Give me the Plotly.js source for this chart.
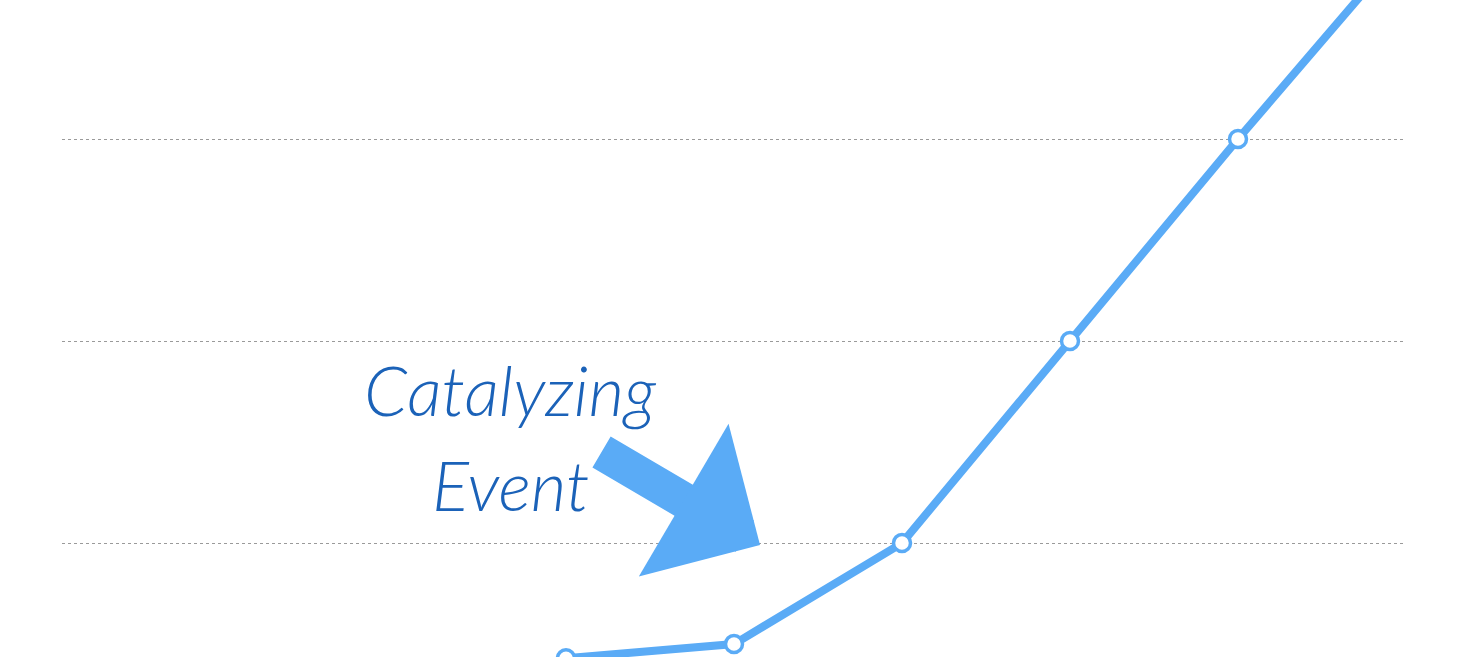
<!DOCTYPE html>
<html>
<head>
    <title>Catalyzing Event</title>
    <script src="https://cdn.plot.ly/plotly-3.0.1.min.js"></script>
    <style>
        html, body { margin: 0; padding: 0; background: white; }
        #plot { width: 1460px; height: 657px; }
    </style>
</head>
<body>
    <div id="plot"></div>
    <script>
        // periods along the x axis and the measured values (arbitrary units)
        const periods = [3, 4, 5, 6, 7, 8];
        const values = [0.43, 0.5, 1.0, 2.0, 3.0, 3.97];
        const noteLines = ['Catalyzing', 'Event'];

        const lineBlue = '#5aabf6';
        const inkBlue = '#1b62b8';
        const handFont = 'Lato, "DejaVu Sans", sans-serif';

        const data = [{
            x: periods,
            y: values,
            type: 'scatter',
            mode: 'lines+markers',
            line: { color: lineBlue, width: 8 },
            marker: {
                size: 17,
                color: 'white',
                line: { color: lineBlue, width: 3.5 }
            },
            hoverinfo: 'x+y'
        }];

        const layout = {
            width: 1460,
            height: 657,
            margin: { l: 62, r: 54, t: 0, b: 0 },
            paper_bgcolor: 'white',
            plot_bgcolor: 'white',
            showlegend: false,
            xaxis: {
                range: [0, 8],
                showgrid: false,
                zeroline: false,
                showticklabels: false,
                showline: false,
                ticks: ''
            },
            yaxis: {
                range: [0.436, 3.688],
                tick0: 0,
                dtick: 1,
                showgrid: true,
                gridcolor: '#9a9a9a',
                griddash: 'dot',
                gridwidth: 1,
                zeroline: false,
                showticklabels: false,
                showline: false,
                ticks: ''
            },
            annotations: [
                {
                    x: 2.67, y: 1.76, xref: 'x', yref: 'y',
                    text: noteLines[0], showarrow: false,
                    font: { family: handFont, size: 69, color: inkBlue, style: 'italic', weight: 300 },
                    xanchor: 'center', yanchor: 'middle'
                },
                {
                    x: 2.67, y: 1.29, xref: 'x', yref: 'y',
                    text: noteLines[1], showarrow: false,
                    font: { family: handFont, size: 69, color: inkBlue, style: 'italic', weight: 300 },
                    xanchor: 'center', yanchor: 'middle'
                },
                {
                    x: 4.155, y: 0.99, xref: 'x', yref: 'y',
                    text: '', showarrow: true,
                    arrowhead: 1, arrowsize: 0.82, arrowwidth: 36,
                    arrowcolor: lineBlue,
                    ax: -160, ay: -94
                }
            ]
        };

        Plotly.newPlot('plot', data, layout, { displayModeBar: false, staticPlot: true });
    </script>
</body>
</html>
